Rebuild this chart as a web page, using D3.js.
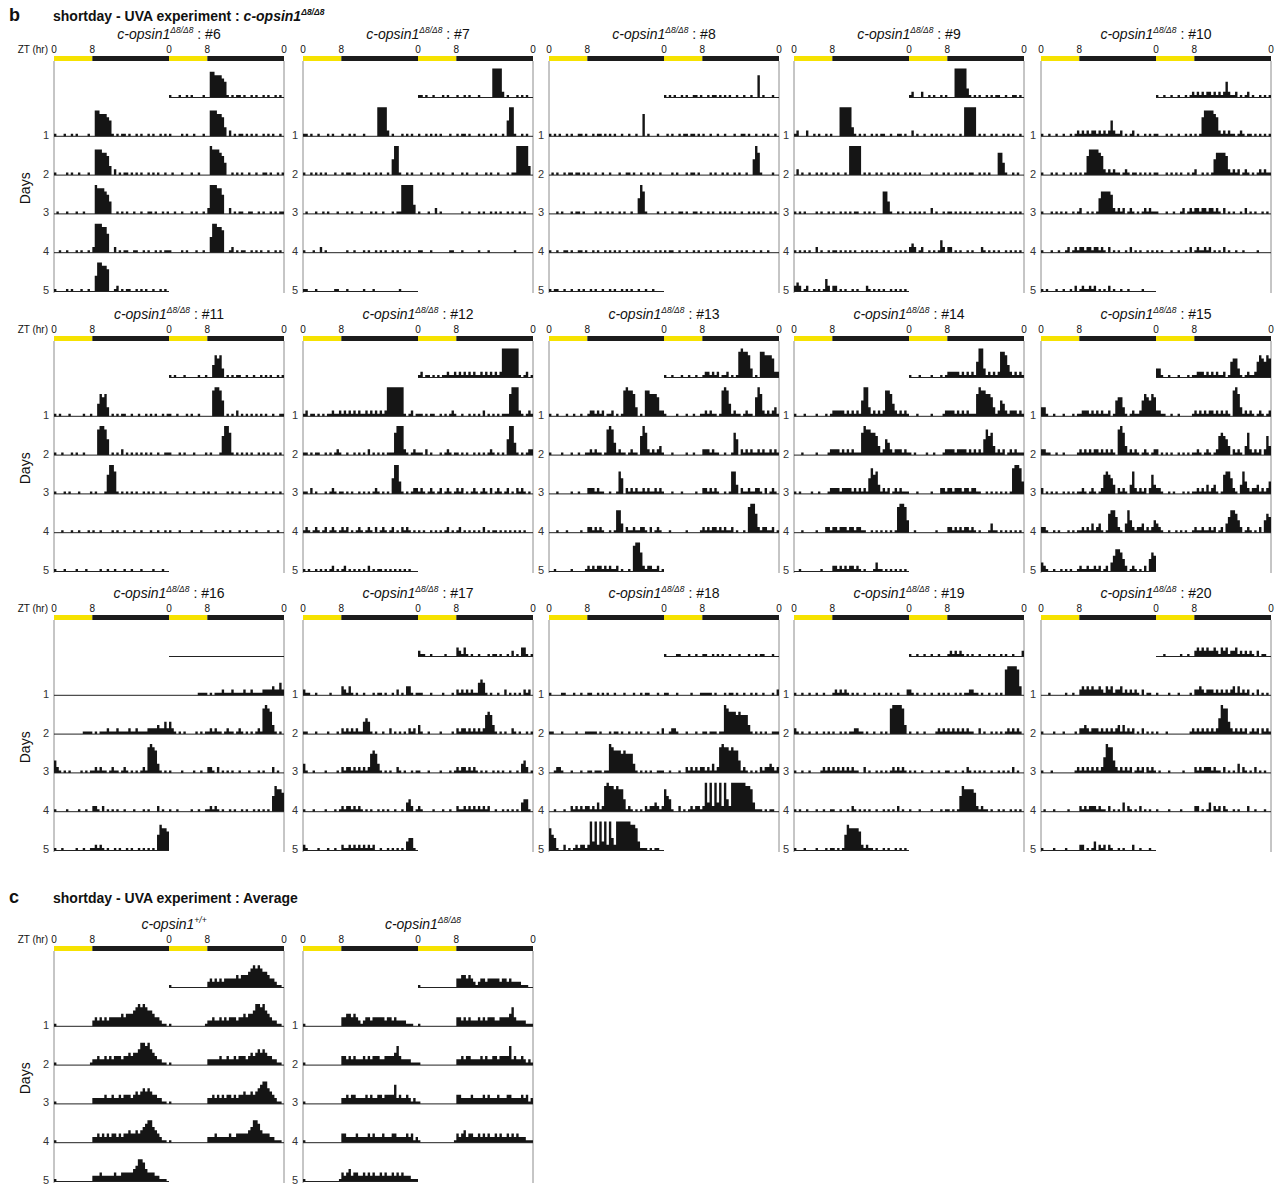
<!DOCTYPE html>
<html>
<head>
<meta charset="utf-8">
<script src="https://cdn.jsdelivr.net/npm/d3@7"></script>
<style>
  body { margin: 0; background: #fff; }
  svg text { font-family: "Liberation Sans", Arial, Helvetica, sans-serif; fill: #111; }
</style>
</head>
<body>
<svg id="chart" width="1276" height="1185"></svg>
<script>
// activity per animal, one string per day, 48 half-hour bins (ZT 0 -> 24),
// written as 6 groups of 8 bins (4 h each); digit = activity level 0..9
var a6 = [
  "10001001 01000010 08877765 10101101 00101001 01001010",
  "10000101 00100010 08887763 02010110 10101001 01010010",
  "01000100 01001000 09888764 00101010 01001001 10100101",
  "00100100 01010010 29998860 02010110 01100101 00101011",
  "10000101 00010010 05998870 01201011 00101010 01001010"
];
var a7 = [
  "11010010 00101000 10010100 01000009 99920100 01010100",
  "10010101 01000100 10110100 01010010 10010599 10010100",
  "01000100 10100010 00101000 10001010 01000101 19999930",
  "10001002 01000000 00100100 01010010 10100101 00101000",
  "11000100 00000110 00100000 01000100 00000000 10000000"
];
var a8 = [
  "10101001 01001101 00101101 01010010 01001007 01000100",
  "01010010 11011010 10010010 01000100 11010010 01010010",
  "00010100 01011010 00010100 10100101 00100597 10000100",
  "10010011 01001101 00101001 01010100 10010101 01001010",
  "10110010 01001010 01010010 01010010 10100100 10010000"
];
var a9 = [
  "12000200 10100101 00099999 31010100 10101100 10011010",
  "02010010 01010100 10100109 99990101 00101001 01010010",
  "10101000 01010010 10010101 01100101 01000774 10010100",
  "10101010 02010010 11010101 01001010 10100101 00101010",
  "23201200 10101420 22010100 10100021 01010100 10101010"
];
var a10 = [
  "10010010 01001012 12121221 21212521 12010120 10010101",
  "10001010 01001010 10168888 76212121 10121011 01010101",
  "10001010 10100101 20010101 57777621 21201210 10121211",
  "10001001 00120121 22122122 12102010 10010201 01001010",
  "10100010 01001020 12112120 10102010 01001000 00100000"
];
var a11 = [
  "10100010 00001001 00476730 10101100 10010010 10100101",
  "10010001 01001000 00899850 10102010 10101010 10010011",
  "10001010 00100001 01000169 97101010 10100101 01001010",
  "00010001 00100010 10010000 10100100 01001000 10010010",
  "10001000 01000100 00010010 01000100 10001000 01000100"
];
var a12 = [
  "12011010 10112112 12121212 11212121 21299999 99101201",
  "11010110 01010121 00100101 01020101 01011179 99210121",
  "11020100 01012101 10101001 01010121 01010599 41010122",
  "12101210 12012101 21201012 10121020 12101201 02121010",
  "10100101 01012010 12010101 01020101 10101010 10101000"
];
var a13 = [
  "10010001 00100100 12212120 11201018 98873010 88777622",
  "10000100 01001001 12121101 89841211 01211069 72121231",
  "00010000 01001000 22212110 01001750 21212112 12112121",
  "00010001 00000100 22121210 01017730 21121122 10201210",
  "00100000 01000001 21212212 12112010 01089962 12211201"
];
var a14 = [
  "10001000 01000101 22222121 21215993 12121288 74212121",
  "00010000 01000012 22212121 21117988 77631254 21222121",
  "10100001 00100012 22212222 12121215 86731212 01212111",
  "00010000 01000221 22122212 21221100 10101010 10189984",
  "00100000 00010000 22121212 21210100 01311010 10101010"
];
var a15 = [
  "33100100 01000101 12221212 12112015 66310121 12576576",
  "22110010 01000001 21212122 12121210 89731212 10121012",
  "20101010 01010101 12101210 12676530 21210372 12120263",
  "22100101 00010101 12121312 31016775 21037421 22312124",
  "32100100 10101001 21121121 20120357 76420121 01020465"
];
var a16 = [
  "00000000 00000000 00000000 00000000 00000000 00000000",
  "00000000 00001111 01011121 11211112 11211112 22232242",
  "42101010 00010101 12121101 21101210 10101218 98731010",
  "10000100 00100100 22102010 10100100 01000101 00020100",
  "10010000 01001001 12121010 01010010 10010101 01058776"
];
var a17 = [
  "21100100 00010000 32131010 01000101 10100102 01033101",
  "11000100 00100010 21212121 14541010 01002010 10102120",
  "31001000 01000010 21221212 12126763 10101002 10100101",
  "10001000 01000101 21221212 10101001 01010010 01034201",
  "21000010 00100100 21121212 12121200 10010101 01034410"
];
var a18 = [
  "10000110 00100100 11001010 10010001 00010010 11000100",
  "11000100 00010001 11110100 01011010 01001010 01000102",
  "00122100 01000100 11011101 19877767 66631010 10100111",
  "00100010 02121212 21213128 98878774 12101010 21223212",
  "75410020 10121221 29392939 29429999 99887311 10101100"
];
var a19 = [
  "10010010 01001000 12121210 10100100 01010010 10010002",
  "21010010 01001010 10010101 12211010 01001010 89999830",
  "10010010 00012121 21212121 21100201 00101010 12121210",
  "10100100 01001001 10010010 21010101 00100101 01020100",
  "10001000 01000101 10101587 77762121 10100101 00101010"
];
var a20 = [
  "00010000 00100100 23232322 32132312 23121212 10201100",
  "10000100 01000010 22321222 12121212 31312120 10201010",
  "10001000 00000012 12121212 12598842 12121201 21202121",
  "01000100 00010000 21212221 21102010 10302101 02010100",
  "10000100 00100000 22010130 21202100 10100020 01000100"
];
// group averages
var avgWT = [
  "10000000 00000000 23232323 33334344 45676765 54332110",
  "10000000 00000001 22322323 23332334 34457767 54322110",
  "10000000 00000000 22222322 32232333 23434545 43322110",
  "10000000 00000000 22323232 33232334 33434567 75432110",
  "10000000 00000000 22232222 23223333 34577643 33221110"
];
var avgKO = [
  "10000000 00000000 33443432 12332333 33233232 22211100",
  "10000000 00000000 33232322 23232333 22333346 32222111",
  "10000000 00000000 22323322 22323223 32333362 32232121",
  "10000000 00000000 33222232 22232322 23222332 22232312",
  "10000000 00000001 32342332 23232322 32322323 23222111"
];

var animalIds = ["#6", "#7", "#8", "#9", "#10", "#11", "#12", "#13", "#14", "#15",
                 "#16", "#17", "#18", "#19", "#20"];
var animals = [a6, a7, a8, a9, a10, a11, a12, a13, a14, a15, a16, a17, a18, a19, a20];
var avgNames = ["+/+", "Δ8/Δ8"];
var avgData = [avgWT, avgKO];

var tickHours = [0, 8, 24, 32, 48];
var tickLabels = ["0", "8", "0", "8", "0"];
var dayLabels = ["1", "2", "3", "4", "5"];
// light schedule (double plotted, 48 h)
var phaseStart = [0, 8, 24, 32];
var phaseEnd = [8, 24, 32, 48];
var phaseLight = [1, 0, 1, 0];

// layout
var colLeft = [54, 303, 549, 794, 1041];
var panelW = 230;
var barTops = [56, 336, 615, 946];
var barH = 5;
var rowStep = 38.8;

var svg = d3.select("#chart");

var xScale = d3.scaleLinear().domain([0, 48]).range([0, panelW]);
// low levels kept small so background counts read as thin ticks
var hScale = d3.scaleLinear().domain([0, 1, 9]).range([0, 2.5, 29]);

function parseDay(s) {
  return s.replace(/ /g, "").split("").map(Number);
}

function sectionTitle(y, letter, parts) {
  svg.append("text").attr("x", 9).attr("y", y)
     .style("font-size", "18px").style("font-weight", "bold").text(letter);
  var t = svg.append("text").attr("x", 53).attr("y", y)
             .style("font-size", "14px").style("font-weight", "bold");
  t.append("tspan").text(parts[0]);
  if (parts[1]) {
    t.append("tspan").style("font-style", "italic").text(parts[1]);
    t.append("tspan").attr("dy", -6).style("font-size", "8.5px")
     .style("font-style", "italic").text(parts[2]);
  }
}

function drawPanel(left, top, sup, rest, days, firstCol, titleDx) {
  var g = svg.append("g").attr("transform", "translate(" + left + ",0)");
  var base0 = top + 41.5;

  // title
  var t = g.append("text")
           .attr("x", panelW / 2 + titleDx)
           .attr("y", top - 17)
           .attr("text-anchor", "middle")
           .style("font-size", "14px");
  t.append("tspan").style("font-style", "italic").text("c-opsin1");
  t.append("tspan").attr("dy", -6).style("font-size", "8.5px")
   .style("font-style", "italic").text(sup);
  t.append("tspan").attr("dy", 6).text(rest);

  // ZT ticks
  g.selectAll(".zt")
   .data(tickHours)
   .enter()
   .append("text")
   .attr("x", d => xScale(d))
   .attr("y", top - 3)
   .attr("text-anchor", "middle")
   .style("font-size", "10px")
   .text((d, i) => tickLabels[i]);

  if (firstCol) {
    g.append("text").attr("x", -6).attr("y", top - 3)
     .attr("text-anchor", "end").style("font-size", "10px").text("ZT (hr)");
    g.append("text")
     .attr("transform", "translate(-24," + (base0 + rowStep + 52) + ") rotate(-90)")
     .attr("text-anchor", "middle")
     .style("font-size", "14px")
     .text("Days");
  }

  // light / dark bar
  g.selectAll(".ld")
   .data(phaseStart)
   .enter()
   .append("rect")
   .attr("x", d => xScale(d))
   .attr("y", top)
   .attr("width", (d, i) => xScale(phaseEnd[i]) - xScale(d))
   .attr("height", barH)
   .attr("fill", (d, i) => phaseLight[i] ? "#f6e200" : "#1c1c1c");

  // side borders
  [0, panelW].forEach(function(xx) {
    g.append("line")
     .attr("x1", xx).attr("x2", xx)
     .attr("y1", top + barH).attr("y2", base0 + 5 * rowStep + 1.5)
     .attr("stroke", "#8c8c8c").attr("stroke-width", 1);
  });

  // rows: left half = day r, right half = day r+1
  for (var r = 0; r <= 5; r++) {
    var base = base0 + r * rowStep;
    if (r >= 1) {
      g.append("text").attr("x", -5).attr("y", base + 2.5)
       .attr("text-anchor", "end").style("font-size", "11px")
       .style("fill", "#333").text(dayLabels[r - 1]);
    }
    [[r - 1, 0], [r, 24]].forEach(function(p) {
      var s = days[p[0]];
      if (!s) return;
      var off = p[1];
      var pts = parseDay(s).map((v, i) => ({ h: off + i * 0.5, v: v }));
      pts.push({ h: off + 24, v: pts[pts.length - 1].v });
      var area = d3.area()
                   .x(d => xScale(d.h))
                   .y0(base)
                   .y1(d => base - hScale(d.v))
                   .curve(d3.curveStepAfter);
      g.append("path").datum(pts).attr("d", area).attr("fill", "#151515");
      g.append("line")
       .attr("x1", xScale(off)).attr("x2", xScale(off + 24))
       .attr("y1", base).attr("y2", base)
       .attr("stroke", "#222").attr("stroke-width", 1);
    });
  }
}

sectionTitle(21, "b", ["shortday - UVA experiment : ", "c-opsin1", "Δ8/Δ8"]);

animalIds.forEach(function(id, i) {
  var row = Math.floor(i / 5);
  var col = i % 5;
  drawPanel(colLeft[col], barTops[row], "Δ8/Δ8", " : " + id, animals[i], col === 0, 0);
});

sectionTitle(903, "c", ["shortday - UVA experiment : Average"]);

avgData.forEach(function(days, i) {
  drawPanel(colLeft[i], barTops[3], avgNames[i], "", days, i === 0, 5);
});
</script>
</body>
</html>
